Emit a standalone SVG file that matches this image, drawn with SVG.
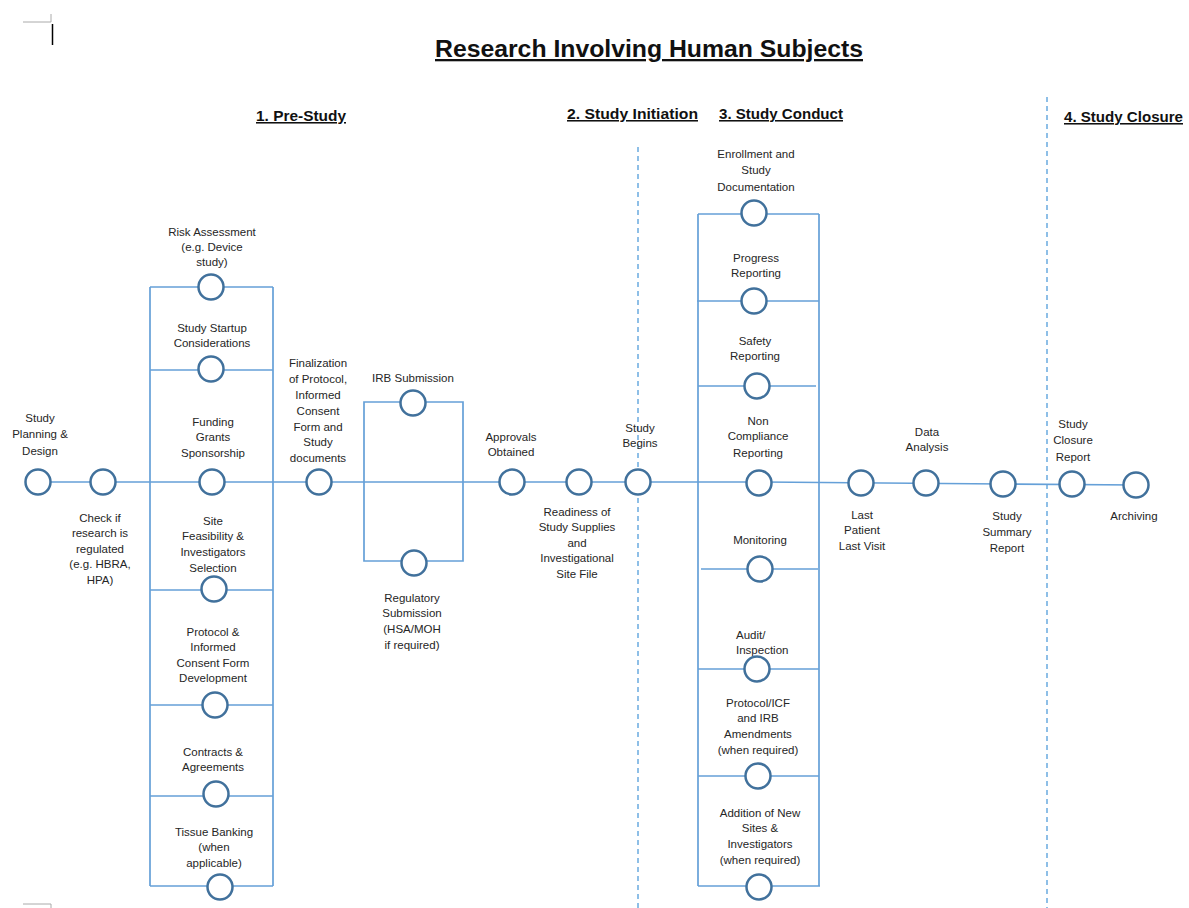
<svg xmlns="http://www.w3.org/2000/svg" width="1189" height="908" viewBox="0 0 1189 908">
<style>
.ln{stroke:#65A0D8;stroke-width:1.7;fill:none}
.dash{stroke:#6AAAE0;stroke-width:1.5;stroke-dasharray:5 4;fill:none}
.nd{fill:#fff;stroke:#41719C;stroke-width:2.5}
.t{font-family:"Liberation Sans",Arial,sans-serif;font-size:11.5px;fill:#262626;text-anchor:middle}
.ts{font-family:"Liberation Sans",Arial,sans-serif;font-size:11.5px;fill:#262626;text-anchor:start}
.h{font-family:"Liberation Sans",Arial,sans-serif;font-weight:bold;font-size:15.5px;fill:#111;text-decoration:underline}
.title{font-family:"Liberation Sans",Arial,sans-serif;font-weight:bold;font-size:23px;fill:#111;text-decoration:underline}
.mark{stroke:#aaa;stroke-width:1;fill:none}
</style>
<rect width="1189" height="908" fill="#fff"/>
<g id="marks">
<path class="mark" d="M23 22H51V14"/>
<path d="M52.5 24V45" stroke="#000" stroke-width="1.5"/>
<path class="mark" d="M23 904H51V908"/>
</g>
<g id="headings">
<text class="title" x="435" y="57" textLength="428" lengthAdjust="spacingAndGlyphs">Research Involving Human Subjects</text>
<text class="h" x="256" y="121" textLength="90" lengthAdjust="spacingAndGlyphs">1. Pre-Study</text>
<text class="h" x="567" y="119" textLength="131" lengthAdjust="spacingAndGlyphs">2. Study Initiation</text>
<text class="h" x="719" y="119" textLength="124" lengthAdjust="spacingAndGlyphs">3. Study Conduct</text>
<text class="h" x="1064" y="122" textLength="119" lengthAdjust="spacingAndGlyphs">4. Study Closure</text>
</g>
<g id="connectors">
<path class="dash" d="M638 147V908"/>
<path class="dash" d="M1047 97V908"/>
<path class="ln" d="M38 482H760L1003 484L1136 485"/>
<path class="ln" d="M150 287V886M273 287V886M150 287H273M150 370H273M150 590H273M150 705H273M150 796H273M150 886H273"/>
<path class="ln" d="M364 402H463V561H364Z"/>
<path class="ln" d="M698 214V886M819 214V886M698 214H819M697 301H819M698 386H816M701 569H818M698 669H819M698 776H819M698 886H820"/>
</g>
<g id="n-planning"><circle class="nd" cx="38" cy="482" r="12.5"/><text class="t" x="40"><tspan x="40" y="422">Study</tspan><tspan x="40" y="438">Planning &amp;</tspan><tspan x="40" y="455">Design</tspan></text></g>
<g id="n-check"><circle class="nd" cx="103" cy="482" r="12.5"/><text class="t"><tspan x="100" y="522">Check if</tspan><tspan x="100" y="537">research is</tspan><tspan x="100" y="553">regulated</tspan><tspan x="100" y="568">(e.g. HBRA,</tspan><tspan x="100" y="584">HPA)</tspan></text></g>
<g id="n-risk"><circle class="nd" cx="211" cy="287" r="12.5"/><text class="t"><tspan x="212" y="236">Risk Assessment</tspan><tspan x="212" y="251">(e.g. Device</tspan><tspan x="212" y="266">study)</tspan></text></g>
<g id="n-startup"><circle class="nd" cx="211" cy="369" r="12.5"/><text class="t"><tspan x="212" y="332">Study Startup</tspan><tspan x="212" y="347">Considerations</tspan></text></g>
<g id="n-funding"><circle class="nd" cx="212" cy="482" r="12.5"/><text class="t"><tspan x="213" y="426">Funding</tspan><tspan x="213" y="441">Grants</tspan><tspan x="213" y="457">Sponsorship</tspan></text></g>
<g id="n-site"><circle class="nd" cx="214" cy="589" r="12.5"/><text class="t"><tspan x="213" y="525">Site</tspan><tspan x="213" y="540">Feasibility &amp;</tspan><tspan x="213" y="556">Investigators</tspan><tspan x="213" y="572">Selection</tspan></text></g>
<g id="n-protocol"><circle class="nd" cx="215" cy="705" r="12.5"/><text class="t"><tspan x="213" y="636">Protocol &amp;</tspan><tspan x="213" y="651">Informed</tspan><tspan x="213" y="667">Consent Form</tspan><tspan x="213" y="682">Development</tspan></text></g>
<g id="n-contracts"><circle class="nd" cx="216" cy="794" r="12.5"/><text class="t"><tspan x="213" y="756">Contracts &amp;</tspan><tspan x="213" y="771">Agreements</tspan></text></g>
<g id="n-tissue"><circle class="nd" cx="220" cy="887" r="12.5"/><text class="t"><tspan x="214" y="836">Tissue Banking</tspan><tspan x="214" y="851">(when</tspan><tspan x="214" y="867">applicable)</tspan></text></g>
<g id="n-final"><circle class="nd" cx="319" cy="482" r="12.5"/><text class="t"><tspan x="318" y="367">Finalization</tspan><tspan x="318" y="383">of Protocol,</tspan><tspan x="318" y="399">Informed</tspan><tspan x="318" y="415">Consent</tspan><tspan x="318" y="431">Form and</tspan><tspan x="318" y="446">Study</tspan><tspan x="318" y="462">documents</tspan></text></g>
<g id="n-irb"><circle class="nd" cx="413" cy="403" r="12.5"/><text class="t" x="413" y="382">IRB Submission</text></g>
<g id="n-reg"><circle class="nd" cx="414" cy="563" r="12.5"/><text class="t"><tspan x="412" y="602">Regulatory</tspan><tspan x="412" y="617">Submission</tspan><tspan x="412" y="633">(HSA/MOH</tspan><tspan x="412" y="649">if required)</tspan></text></g>
<g id="n-approvals"><circle class="nd" cx="512" cy="482" r="12.5"/><text class="t"><tspan x="511" y="441">Approvals</tspan><tspan x="511" y="456">Obtained</tspan></text></g>
<g id="n-readiness"><circle class="nd" cx="579" cy="482" r="12.5"/><text class="t"><tspan x="577" y="516">Readiness of</tspan><tspan x="577" y="531">Study Supplies</tspan><tspan x="577" y="547">and</tspan><tspan x="577" y="562">Investigational</tspan><tspan x="577" y="578">Site File</tspan></text></g>
<g id="n-begins"><circle class="nd" cx="638" cy="482" r="12.5"/><text class="t"><tspan x="640" y="432">Study</tspan><tspan x="640" y="447">Begins</tspan></text></g>
<g id="n-enroll"><circle class="nd" cx="754" cy="213" r="12.5"/><text class="t"><tspan x="756" y="158">Enrollment and</tspan><tspan x="756" y="174">Study</tspan><tspan x="756" y="191">Documentation</tspan></text></g>
<g id="n-progress"><circle class="nd" cx="754" cy="301" r="12.5"/><text class="t"><tspan x="756" y="262">Progress</tspan><tspan x="756" y="277">Reporting</tspan></text></g>
<g id="n-safety"><circle class="nd" cx="757" cy="386" r="12.5"/><text class="t"><tspan x="755" y="345">Safety</tspan><tspan x="755" y="360">Reporting</tspan></text></g>
<g id="n-noncomp"><circle class="nd" cx="759" cy="483" r="12.5"/><text class="t"><tspan x="758" y="425">Non</tspan><tspan x="758" y="440">Compliance</tspan><tspan x="758" y="457">Reporting</tspan></text></g>
<g id="n-monitor"><circle class="nd" cx="760" cy="569" r="12.5"/><text class="t" x="760" y="544">Monitoring</text></g>
<g id="n-audit"><circle class="nd" cx="757" cy="669" r="12.5"/><text class="ts"><tspan x="736" y="639">Audit/</tspan><tspan x="736" y="654">Inspection</tspan></text></g>
<g id="n-amend"><circle class="nd" cx="758" cy="776" r="12.5"/><text class="t"><tspan x="758" y="707">Protocol/ICF</tspan><tspan x="758" y="722">and IRB</tspan><tspan x="758" y="738">Amendments</tspan><tspan x="758" y="754">(when required)</tspan></text></g>
<g id="n-addition"><circle class="nd" cx="759" cy="887" r="12.5"/><text class="t"><tspan x="760" y="817">Addition of New</tspan><tspan x="760" y="832">Sites &amp;</tspan><tspan x="760" y="848">Investigators</tspan><tspan x="760" y="864">(when required)</tspan></text></g>
<g id="n-lplv"><circle class="nd" cx="861" cy="483" r="12.5"/><text class="t"><tspan x="862" y="519">Last</tspan><tspan x="862" y="534">Patient</tspan><tspan x="862" y="550">Last Visit</tspan></text></g>
<g id="n-data"><circle class="nd" cx="926" cy="483" r="12.5"/><text class="t"><tspan x="927" y="436">Data</tspan><tspan x="927" y="451">Analysis</tspan></text></g>
<g id="n-summary"><circle class="nd" cx="1003" cy="484" r="12.5"/><text class="t"><tspan x="1007" y="520">Study</tspan><tspan x="1007" y="536">Summary</tspan><tspan x="1007" y="552">Report</tspan></text></g>
<g id="n-closure"><circle class="nd" cx="1072" cy="484" r="12.5"/><text class="t"><tspan x="1073" y="428">Study</tspan><tspan x="1073" y="444">Closure</tspan><tspan x="1073" y="461">Report</tspan></text></g>
<g id="n-archive"><circle class="nd" cx="1136" cy="485" r="12.5"/><text class="t" x="1134" y="520">Archiving</text></g>
</svg>
